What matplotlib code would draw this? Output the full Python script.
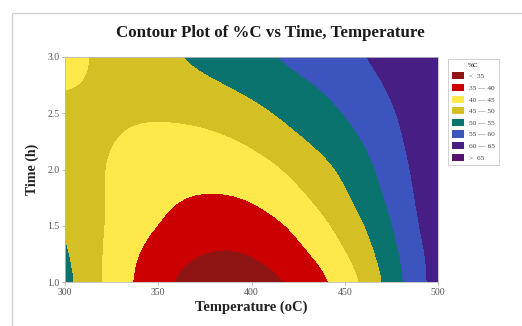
import numpy as np
import matplotlib
matplotlib.use("Agg")
import matplotlib.pyplot as plt
from matplotlib.colors import ListedColormap, BoundaryNorm
from matplotlib.patches import Patch, Rectangle

# Response grid: %C at each temperature (columns) and time (rows)
temperature = [300, 320, 340, 360, 380, 400, 420, 440, 460, 480, 500]
time_h = [1.0, 1.25, 1.5, 1.75, 2.0, 2.25, 2.5, 2.75, 3.0]
pct_c = [
    [52.5, 44.7, 38.8, 34.0, 32.0, 32.5, 34.6, 39.0, 45.0, 54.5, 63.0],
    [51.5, 44.7, 39.6, 36.2, 34.3, 34.8, 37.9, 41.8, 47.5, 55.4, 63.0],
    [50.6, 45.0, 41.5, 38.6, 37.1, 37.6, 39.8, 44.3, 49.5, 56.5, 64.0],
    [49.3, 45.0, 42.5, 40.0, 39.6, 40.1, 43.2, 46.8, 51.8, 57.8, 64.0],
    [48.0, 45.0, 42.8, 41.8, 41.6, 42.6, 45.3, 48.8, 53.1, 58.8, 64.0],
    [47.1, 45.6, 43.8, 43.5, 43.8, 45.5, 48.6, 51.6, 55.0, 59.8, 64.0],
    [46.3, 46.0, 45.5, 45.6, 46.5, 48.5, 51.2, 53.7, 56.7, 60.5, 64.0],
    [44.4, 45.6, 46.6, 47.8, 49.4, 51.4, 53.4, 55.6, 58.4, 61.5, 64.0],
    [43.5, 45.7, 47.9, 50.0, 52.0, 54.0, 56.0, 58.1, 60.1, 62.0, 64.0],
]

levels = [0, 35, 40, 45, 50, 55, 60, 65, 100]
level_labels = ["<  35", "35 — 40", "40 — 45", "45 — 50",
                "50 — 55", "55 — 60", "60 — 65", ">  65"]
colors = ["#8f1414", "#cc0000", "#ffe94a", "#d4c024",
          "#0b736e", "#3c55be", "#461e84", "#561470"]

cmap = ListedColormap(colors)
norm = BoundaryNorm(levels, cmap.N)

fig = plt.figure(figsize=(5.22, 3.26), dpi=100)
fig.patch.set_facecolor("white")

# light outer frame
fig.patches.append(Rectangle((12 / 522, -0.1), 1.2, 1 - 13 / 326 + 0.1,
                             transform=fig.transFigure, fill=False,
                             edgecolor="#d4d4d4", linewidth=1.0))

ax = fig.add_axes([65 / 522, 44 / 326, 373 / 522, 225 / 326])

# smooth banded surface: bicubic on the data, then binned into the levels
dx = (temperature[1] - temperature[0]) / 2
dy = (time_h[1] - time_h[0]) / 2
ax.imshow(np.array(pct_c), origin="lower", cmap=cmap, norm=norm,
          interpolation="bicubic", interpolation_stage="data",
          extent=[temperature[0] - dx, temperature[-1] + dx,
                  time_h[0] - dy, time_h[-1] + dy],
          aspect="auto")

ax.set_xlim(300, 500)
ax.set_ylim(1.0, 3.0)
ax.set_xticks([300, 350, 400, 450, 500])
ax.set_yticks([1.0, 1.5, 2.0, 2.5, 3.0])
ax.set_yticklabels(["1.0", "1.5", "2.0", "2.5", "3.0"])

serif = "Liberation Serif"
for lab in ax.get_xticklabels() + ax.get_yticklabels():
    lab.set_fontfamily(serif)
    lab.set_fontsize(7)
    lab.set_color("#555555")
ax.tick_params(length=2.5, width=0.6, color="#aaaaaa", pad=1.5)
for sp in ax.spines.values():
    sp.set_color("#bbbbbb")
    sp.set_linewidth(0.6)

ax.set_xlabel("Temperature (oC)", fontfamily=serif, fontweight="bold",
              fontsize=10.5, color="#222222", labelpad=3)
ax.set_ylabel("Time (h)", fontfamily=serif, fontweight="bold",
              fontsize=10, color="#222222", labelpad=6)
fig.text(270 / 522, 1 - 33 / 326, "Contour Plot of %C vs Time, Temperature",
         ha="center", va="center", fontfamily=serif, fontweight="bold",
         fontsize=12.2, color="#1a1a1a")

handles = [Patch(facecolor=c, edgecolor="none") for c in colors]
leg = fig.legend(handles, level_labels, title="%C", loc="upper left",
                 bbox_to_anchor=(444 / 522, 1 - 55 / 326),
                 prop={"family": serif, "size": 5.3},
                 title_fontproperties={"family": serif, "size": 5},
                 frameon=True, fancybox=False, handlelength=1.6,
                 handleheight=1.1, labelspacing=0.62, borderpad=0.55,
                 handletextpad=0.7)
leg.get_frame().set_edgecolor("#bbbbbb")
leg.get_frame().set_linewidth(0.6)
for t in leg.get_texts():
    t.set_color("#444444")

fig.savefig("out.png", dpi=100)
